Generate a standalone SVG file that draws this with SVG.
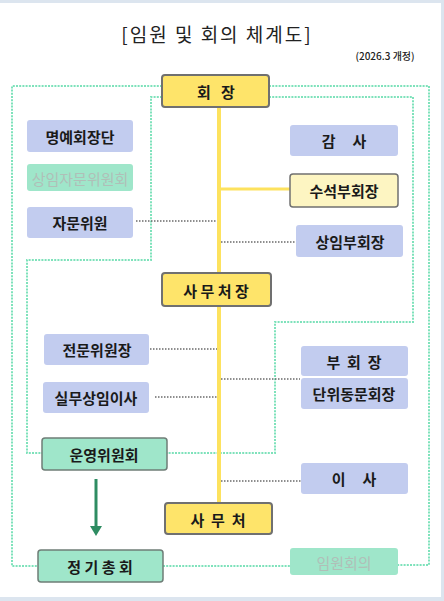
<svg xmlns="http://www.w3.org/2000/svg" width="444" height="601" viewBox="0 0 444 601" xml:space="preserve">
<defs>
<style>
.t{font-family:"Noto Sans CJK KR","Noto Sans",sans-serif;font-size:15px;fill:#1a1a1a;text-anchor:middle;dominant-baseline:central;font-weight:bold;white-space:pre}
.m{font-weight:600}
.blue{fill:#c2ccef}
.mint{fill:#9fe6ca;stroke:#6f7d77;stroke-width:1.5}
.mintf{fill:#9fe6ca}
.yel{fill:#fee46a;stroke:#707070;stroke-width:2}
.ylt{fill:#fdf5c2;stroke:#707070;stroke-width:1.5}
.faded{fill:#b0bfb8;font-weight:normal}
.gdot{fill:none;stroke:#7ee2bb;stroke-width:2;stroke-dasharray:2 1.2}
.kdot{fill:none;stroke:#6a6a6a;stroke-width:1.5;stroke-dasharray:1.5 1.5}
</style>
</defs>
<rect width="444" height="601" fill="#dce5ef"/>
<rect x="0" y="3" width="441" height="594" fill="#ffffff"/>

<text x="217" y="33" style="font-family:'Noto Sans CJK KR',sans-serif;font-size:19px;fill:#222;text-anchor:middle;dominant-baseline:central;letter-spacing:2px">[임원 및 회의 체계도]</text>
<text x="385" y="55" style="font-family:'Noto Sans CJK KR',sans-serif;font-size:10px;fill:#222;text-anchor:middle;dominant-baseline:central;font-weight:500">(2026.3 개정)</text>

<g id="connectors">
<path class="gdot" d="M162,86 H12 V566 H38"/>
<path class="gdot" d="M269,86 H429 V565 H398"/>
<path class="gdot" d="M163,566 H290"/>
<path class="gdot" d="M162,97 H151 V260 H27 V453 H42"/>
<path class="gdot" d="M269,97 H413 V322 H275 V453 H167"/>
<line x1="219" y1="107" x2="219" y2="503" stroke="#fde25e" stroke-width="4"/>
<line x1="219" y1="189" x2="290" y2="189" stroke="#fde25e" stroke-width="3"/>
<line class="kdot" x1="136" y1="221" x2="217" y2="221"/>
<line class="kdot" x1="221" y1="242" x2="296" y2="242"/>
<line class="kdot" x1="150" y1="349" x2="217" y2="349"/>
<line class="kdot" x1="155" y1="397" x2="217" y2="397"/>
<line class="kdot" x1="221" y1="379" x2="300" y2="379"/>
<line class="kdot" x1="221" y1="481" x2="301" y2="481"/>
<line x1="96" y1="479" x2="96" y2="528" stroke="#2e8c62" stroke-width="3"/>
<path d="M90,526 L102,526 L96,536 Z" fill="#2e8c62"/>
</g>

<g id="n-chairman"><rect class="yel" x="162" y="75" width="107" height="32" rx="3"/><text class="t" x="216" y="91">회   장</text></g>
<g id="n-honorary"><rect class="blue" x="27" y="120" width="106" height="32" rx="3"/><text class="t" x="80" y="136">명예회장단</text></g>
<g id="n-standing-advisory"><rect class="mintf" x="27" y="164" width="106" height="27" rx="3"/><text class="t faded" x="80" y="178">상임자문위원회</text></g>
<g id="n-advisor"><rect class="blue" x="27" y="207" width="106" height="31" rx="3"/><text class="t" x="80" y="222">자문위원</text></g>
<g id="n-auditor"><rect class="blue" x="290" y="125" width="108" height="31" rx="3"/><text class="t" x="344" y="140">감     사</text></g>
<g id="n-senior-vp"><rect class="ylt" x="290" y="174" width="108" height="33" rx="3"/><text class="t m" x="344" y="190">수석부회장</text></g>
<g id="n-standing-vp"><rect class="blue" x="296" y="225" width="107" height="32" rx="3"/><text class="t m" x="350" y="241">상임부회장</text></g>
<g id="n-secgen"><rect class="yel" x="162" y="273" width="109" height="33" rx="3"/><text class="t" x="216" y="290">사 무 처 장</text></g>
<g id="n-expert"><rect class="blue" x="44" y="334" width="105" height="31" rx="3"/><text class="t m" x="97" y="349">전문위원장</text></g>
<g id="n-exec"><rect class="blue" x="43" y="382" width="106" height="31" rx="3"/><text class="t m" x="96" y="397">실무상임이사</text></g>
<g id="n-vp"><rect class="blue" x="301" y="346" width="107" height="30" rx="3"/><text class="t" x="354" y="361">부  회  장</text></g>
<g id="n-unit"><rect class="blue" x="301" y="378" width="107" height="31" rx="3"/><text class="t m" x="354" y="393">단위동문회장</text></g>
<g id="n-steering"><rect class="mint" x="42" y="438" width="125" height="32" rx="3"/><text class="t m" x="104" y="454">운영위원회</text></g>
<g id="n-director"><rect class="blue" x="301" y="463" width="107" height="31" rx="3"/><text class="t" x="354" y="478">이     사</text></g>
<g id="n-secretariat"><rect class="yel" x="165" y="503" width="107" height="31" rx="3"/><text class="t" x="218" y="519">사  무  처</text></g>
<g id="n-general"><rect class="mint" x="38" y="550" width="125" height="32" rx="3"/><text class="t" x="100" y="566">정 기 총 회</text></g>
<g id="n-officers"><rect class="mintf" x="290" y="548" width="108" height="27" rx="3"/><text class="t faded" x="344" y="562">임원회의</text></g>
</svg>
